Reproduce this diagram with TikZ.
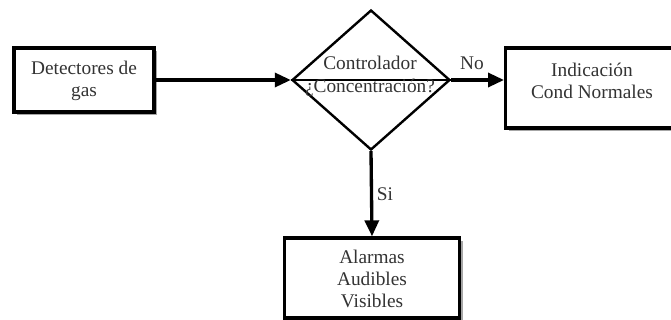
\documentclass[tikz,border=0pt]{standalone}
\usepackage{fontspec}
\setmainfont{Liberation Serif}
\usetikzlibrary{arrows.meta,shapes.geometric,shadows}

\tikzset{
  px/.style={x=0.75pt,y=-0.75pt},
  flowbox/.style={draw=black,line width=2.5pt,fill=white,inner sep=0pt,
    drop shadow={shadow xshift=2.5pt,shadow yshift=-2.5pt,fill=black!50,opacity=0.7}},
  decision/.style={draw=black,line width=1.8pt,diamond,inner sep=0pt,aspect=1.13},
  txt/.style={text=black!80,align=center,inner sep=0pt,
    font=\fontsize{14.5}{16.5}\selectfont},
  flow/.style={line width=2.5pt,-{Triangle[length=12pt,width=10.5pt]}},
  tag/.style={text=black!80,inner sep=0pt,font=\fontsize{14.5}{16.5}\selectfont}
}

\begin{document}
\begin{tikzpicture}[px]
  \useasboundingbox (0,0) rectangle (671,320);
  \clip (0,0) rectangle (671,320);

  % process boxes
  \node[flowbox,minimum width=105pt,minimum height=48pt] (det) at (84,80) {};
  \node[flowbox,minimum width=131pt,minimum height=60pt] (ind) at (593,88) {};
  \node[flowbox,minimum width=131pt,minimum height=60pt] (ala) at (372,278) {};

  % decision diamond
  \node[decision,minimum width=118.5pt,minimum height=105pt] (ctl) at (371,80) {};
  \draw[line width=1.8pt] (ctl.west) -- (ctl.east);

  % texts
  \node[txt] (detT) at (84,81) {Detectores de\\gas};
  \node[txt] (indT) at (592,81) {Indicación\\Cond Normales};
  \node[txt] (alaT) at (372,279) {Alarmas\\Audibles\\Visibles};
  \node[txt,anchor=base] (ctlA) at (370,70) {Controlador};
  \node[txt,anchor=base] (ctlB) at (370,93) {¿Concentración?};

  % connectors
  \draw[flow] (det.east) -- (ctl.west);
  \draw[flow] (ctl.east) -- (ctl.east -| ind.west);
  \draw[flow] (ctl.south) -- (ala.north);

  % branch labels
  \node[tag] (no) at (472,63) {No};
  \node[tag] (si) at (385,194) {Si};
\end{tikzpicture}
\end{document}
